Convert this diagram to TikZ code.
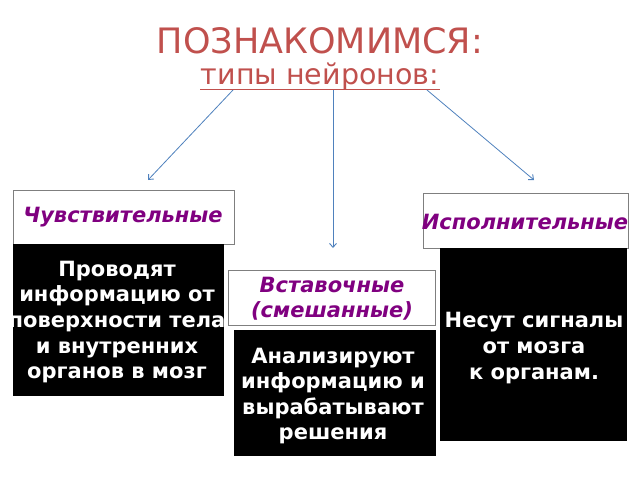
\documentclass[tikz,border=0pt]{standalone}
\usepackage{fontspec}
\setmainfont{DejaVu Sans}
\usetikzlibrary{arrows.meta}
\definecolor{titlered}{HTML}{C0504D}
\definecolor{arrowblue}{HTML}{4F81BD}
\definecolor{labelpurple}{HTML}{800080}
\definecolor{boxgrey}{HTML}{7F7F7F}
\tikzset{
  labelbox/.style={draw=boxgrey, line width=0.8pt, fill=white, anchor=north west, inner sep=0pt},
  darkbox/.style={fill=black, anchor=north west, inner sep=0pt},
  labeltext/.style={text=labelpurple, font=\fontsize{21}{25}\selectfont\bfseries\itshape, align=center, inner sep=0pt},
  bodytext/.style={text=white, font=\fontsize{21}{25.6}\selectfont\bfseries, align=center, inner sep=0pt},
  conn/.style={draw=arrowblue, line width=0.8pt, -{Straight Barb[length=4pt,width=7pt,line width=0.9pt]}}
}
\begin{document}
\begin{tikzpicture}[x=1pt,y=-1pt]
\useasboundingbox (0,0) rectangle (640,480);
% title
\node[text=titlered, font=\fontsize{35}{40}\selectfont, inner sep=0pt] (title) at (320,41) {ПОЗНАКОМИМСЯ:};
\node[text=titlered, font=\fontsize{28.5}{30}\selectfont, inner sep=0pt, anchor=base] (sub) at (320,84) {типы нейронов:};
\coordinate (u1) at (200,89.5);
\coordinate (u2) at (440,89.5);
\draw[titlered, line width=1.3pt] (u1) -- (u2);
% boxes
\node[labelbox, minimum width=221pt, minimum height=54pt] (l1) at (13,190) {};
\node[darkbox, minimum width=211pt, minimum height=152pt] (b1) at (13,244) {};
\node[labelbox, minimum width=205pt, minimum height=55pt] (l3) at (423,193) {};
\node[darkbox, minimum width=187pt, minimum height=193pt] (b3) at (440,248) {};
\node[labelbox, minimum width=207pt, minimum height=55pt] (l2) at (228,270) {};
\node[darkbox, minimum width=202pt, minimum height=126pt] (b2) at (234,330) {};
% texts
\node[labeltext] (t1) at (123,217) {Чувствительные};
\node[labeltext] (t3) at (525,222) {Исполнительные};
\node[labeltext] (t2) at (332,299) {Вставочные\\(смешанные)};
\node[bodytext] (d1) at (117,322) {Проводят\\информацию от\\поверхности тела\\и внутренних\\органов в мозг};
\node[bodytext] (d2) at (333,396) {Анализируют\\информацию и\\вырабатывают\\решения};
\node[bodytext] (d3) at (534,348) {Несут сигналы\\от мозга\\к органам.};
% connectors
\coordinate (s1) at (233,90);
\coordinate (s2) at (333,90);
\coordinate (s3) at (427,90);
\coordinate (e1) at (148,180);
\coordinate (e2) at (333,248);
\coordinate (e3) at (534,180);
\draw[conn] (s1) -- (e1);
\draw[conn] (s2) -- (e2);
\draw[conn] (s3) -- (e3);
\end{tikzpicture}
\end{document}
